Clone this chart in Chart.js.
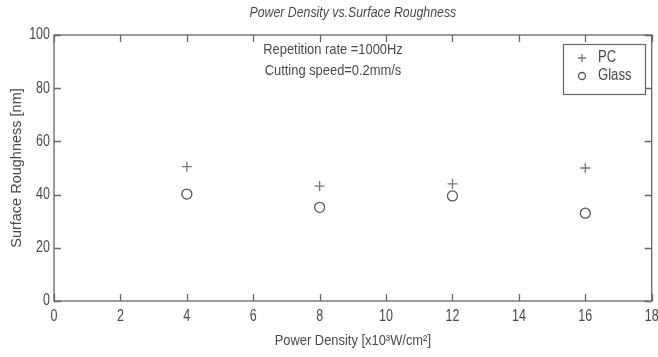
<!DOCTYPE html>
<html lang="en">
<head>
    <meta charset="UTF-8">
    <title>Power Density vs. Surface Roughness</title>
    <script src="https://cdn.jsdelivr.net/npm/chart.js"></script>
    <style>
        html, body {
            margin: 0;
            padding: 0;
            background: #fff;
        }
        .chart-container {
            width: 658px;
            height: 357px;
        }
    </style>
</head>
<body>
    <div class="chart-container">
        <canvas id="roughnessChart" width="658" height="357"></canvas>
    </div>

    <script>
        // Data
        const powerDensity = [4, 8, 12, 16];
        const pcRoughness = [50.5, 43.2, 44, 50];
        const glassRoughness = [40.2, 35.2, 39.5, 33];
        const xTickValues = [0, 2, 4, 6, 8, 10, 12, 14, 16, 18];
        const yTickValues = [0, 20, 40, 60, 80, 100];
        const noteLines = ["Repetition rate =1000Hz", "Cutting speed=0.2mm/s"];

        const sans = "'Liberation Sans', Arial, sans-serif";
        const textColor = "#4a4a4a";
        const axisColor = "#666";

        const toPoints = (xs, ys) => xs.map((x, i) => ({ x: x, y: ys[i] }));

        // no narrow font installed, so squeeze the regular one horizontally
        function narrowText(ctx, text, x, y, font, squeeze, align) {
            ctx.save();
            ctx.translate(x, y);
            ctx.scale(squeeze, 1);
            ctx.font = font;
            ctx.textAlign = align || "center";
            ctx.textBaseline = "middle";
            ctx.fillText(text, 0, 0);
            ctx.restore();
        }

        // Matlab-style box, inward ticks, labels, note and legend
        const matlabFrame = {
            id: "matlabFrame",
            afterDraw(chart) {
                const ctx = chart.ctx;
                const area = chart.chartArea;
                const xs = chart.scales.x;
                const ys = chart.scales.y;
                const tick = 7;
                const midX = (area.left + area.right) / 2;

                ctx.save();
                ctx.strokeStyle = axisColor;
                ctx.lineWidth = 1.3;
                ctx.strokeRect(area.left, area.top, area.right - area.left, area.bottom - area.top);

                ctx.beginPath();
                xTickValues.forEach(v => {
                    const px = Math.round(xs.getPixelForValue(v)) + 0.5;
                    ctx.moveTo(px, area.bottom);
                    ctx.lineTo(px, area.bottom - tick);
                    ctx.moveTo(px, area.top);
                    ctx.lineTo(px, area.top + tick);
                });
                yTickValues.forEach(v => {
                    const py = Math.round(ys.getPixelForValue(v)) + 0.5;
                    ctx.moveTo(area.left, py);
                    ctx.lineTo(area.left + tick, py);
                    ctx.moveTo(area.right, py);
                    ctx.lineTo(area.right - tick, py);
                });
                ctx.stroke();

                ctx.fillStyle = textColor;

                // tick labels
                xTickValues.forEach(v => {
                    narrowText(ctx, String(v), xs.getPixelForValue(v), area.bottom + 16, "16px " + sans, 0.78);
                });
                yTickValues.forEach(v => {
                    narrowText(ctx, String(v), area.left - 4, ys.getPixelForValue(v), "16px " + sans, 0.78, "right");
                });

                // title
                narrowText(ctx, "Power Density vs.Surface Roughness", midX, 13, "italic 14px " + sans, 0.88);

                // x label
                narrowText(ctx, "Power Density [x10\u00B3W/cm\u00B2]", midX, 341, "15px " + sans, 0.86);

                // y label
                ctx.save();
                ctx.translate(17, (area.top + area.bottom) / 2);
                ctx.rotate(-Math.PI / 2);
                ctx.font = "14.5px " + sans;
                ctx.textAlign = "center";
                ctx.textBaseline = "middle";
                ctx.fillText("Surface Roughness [nm]", 0, 0);
                ctx.restore();

                // note
                narrowText(ctx, noteLines[0], 333, 50, "15px " + sans, 0.86);
                narrowText(ctx, noteLines[1], 333, 71, "15px " + sans, 0.86);

                // legend
                const lx = 563, ly = 44, lw = 82, lh = 50;
                ctx.fillStyle = "#fff";
                ctx.fillRect(lx, ly, lw, lh);
                ctx.strokeStyle = axisColor;
                ctx.lineWidth = 1.2;
                ctx.strokeRect(lx + 0.5, ly + 0.5, lw, lh);
                chart.data.datasets.forEach((ds, i) => {
                    const cy = ly + 14 + i * 18;
                    ctx.strokeStyle = ds.borderColor;
                    ctx.lineWidth = ds.borderWidth;
                    ctx.beginPath();
                    if (ds.pointStyle === "cross") {
                        ctx.moveTo(582 - 4, cy);
                        ctx.lineTo(582 + 4, cy);
                        ctx.moveTo(582, cy - 4);
                        ctx.lineTo(582, cy + 4);
                    } else {
                        ctx.arc(582, cy, 3.5, 0, Math.PI * 2);
                    }
                    ctx.stroke();
                    ctx.fillStyle = textColor;
                    narrowText(ctx, ds.label, 598, cy, "16px " + sans, 0.82, "left");
                });
                ctx.restore();
            }
        };

        new Chart(document.getElementById("roughnessChart"), {
            type: "scatter",
            data: {
                datasets: [
                    {
                        label: "PC",
                        data: toPoints(powerDensity, pcRoughness),
                        pointStyle: "cross",
                        pointRadius: 5,
                        borderColor: "#777",
                        backgroundColor: "#777",
                        borderWidth: 1.3
                    },
                    {
                        label: "Glass",
                        data: toPoints(powerDensity, glassRoughness),
                        pointStyle: "circle",
                        pointRadius: 5,
                        borderColor: "#555",
                        backgroundColor: "#fff",
                        borderWidth: 1.3
                    }
                ]
            },
            options: {
                responsive: false,
                animation: false,
                layout: {
                    padding: { top: 35, right: 6, left: 0, bottom: 0 }
                },
                plugins: {
                    legend: { display: false },
                    tooltip: { enabled: false }
                },
                scales: {
                    x: {
                        type: "linear",
                        min: 0,
                        max: 18,
                        afterFit: scale => { scale.height = 56; },
                        afterBuildTicks: scale => { scale.ticks = xTickValues.map(v => ({ value: v })); },
                        grid: { display: false, drawTicks: false },
                        border: { display: false },
                        ticks: { display: false }
                    },
                    y: {
                        min: 0,
                        max: 100,
                        afterFit: scale => { scale.width = 54; },
                        afterBuildTicks: scale => { scale.ticks = yTickValues.map(v => ({ value: v })); },
                        grid: { display: false, drawTicks: false },
                        border: { display: false },
                        ticks: { display: false }
                    }
                }
            },
            plugins: [matlabFrame]
        });
    </script>
</body>
</html>
